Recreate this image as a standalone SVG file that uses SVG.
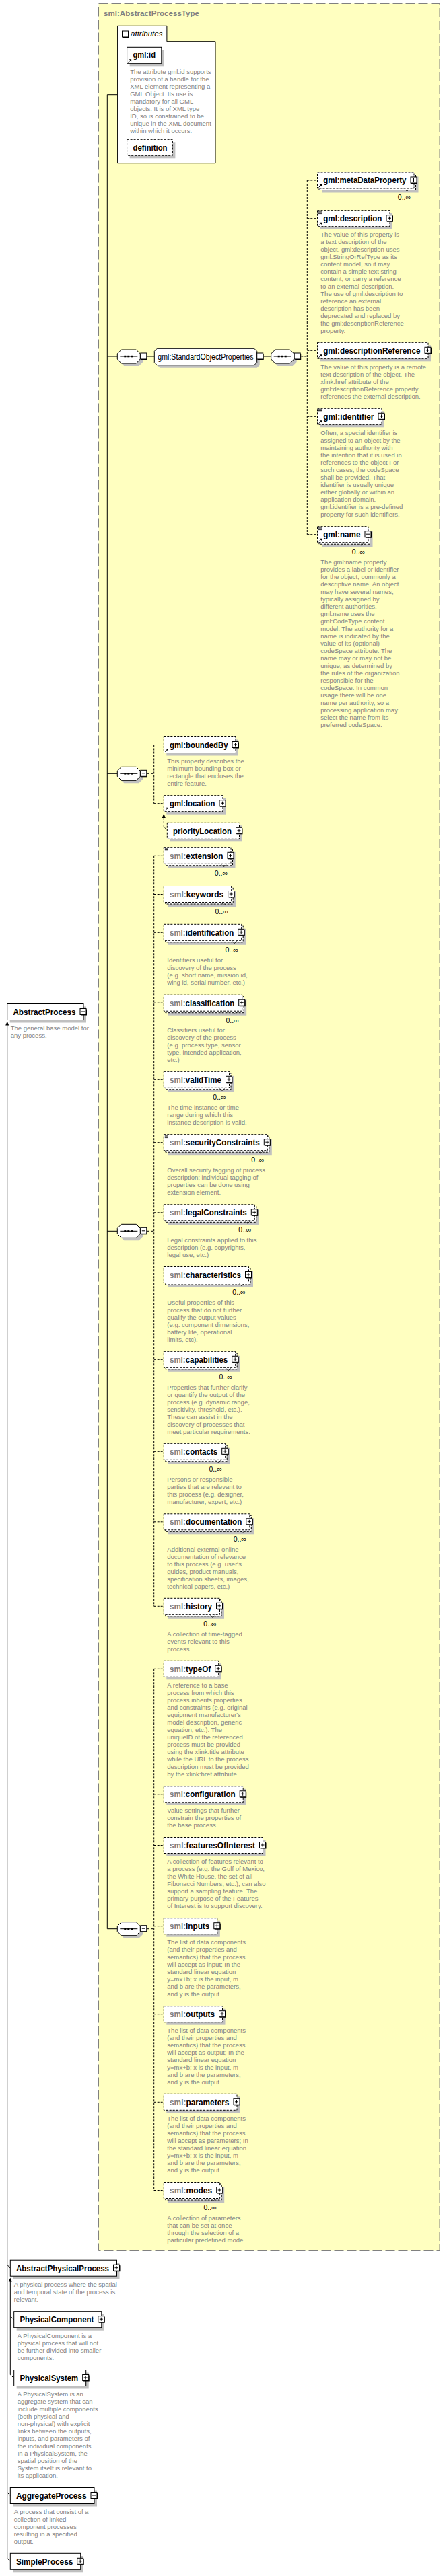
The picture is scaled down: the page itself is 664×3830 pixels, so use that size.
<svg xmlns="http://www.w3.org/2000/svg" xmlns:xlink="http://www.w3.org/1999/xlink" width="664" height="3830" viewBox="0 0 664 3830">
<style>
.bx{fill:#fff;stroke:#000;stroke-width:1}
.o{stroke-dasharray:3,2}
.sh{fill:#c0c0c0}
.n{font-family:"Liberation Sans",Arial,sans-serif;font-weight:bold;font-size:12px;fill:#000}
.g{fill:#808080}
.d{font-family:"Liberation Sans",Arial,sans-serif;font-size:9.5px;fill:#808080}
.m{font-family:"Liberation Sans",Arial,sans-serif;font-size:10.5px;fill:#000}
.c{fill:none;stroke:#000;stroke-width:1}
.cd{fill:none;stroke:#000;stroke-width:1;stroke-dasharray:3,2}
.v{fill:none;stroke:#000;stroke-width:0.7}
</style>
<defs>
<g id="plus"><rect x="1" y="1" width="9" height="9" fill="#000"/><rect x="0" y="0" width="9" height="9" fill="#fff" stroke="#000"/><path d="M2,4.5H7M4.5,2V7" stroke="#000" fill="none"/></g>
<g id="minus"><rect x="1" y="1" width="9" height="9" fill="#000"/><rect x="0" y="0" width="9" height="9" fill="#fff" stroke="#000"/><path d="M2,4.5H7" stroke="#000" fill="none"/></g>
<g id="seq">
<path d="M10,4H32L38,10V18L32,24H10L4,18V10Z" fill="#c0c0c0"/>
<path d="M6,0H28L34,6V14L28,20H6L0,14V6Z" fill="#fff" stroke="#000"/>
<path d="M4,10H30" stroke="#000" fill="none"/>
<rect x="10" y="8.8" width="3" height="2.5" fill="#000"/><rect x="15" y="8.8" width="3" height="2.5" fill="#000"/><rect x="20" y="8.8" width="3" height="2.5" fill="#000"/>
<use xlink:href="#minus" href="#minus" x="34.5" y="5"/>
</g>
<g id="ref"><path d="M2,-1.5L5.3,-4.8" stroke="#000" fill="none"/><polygon points="3.2,-6 6.5,-6 6.5,-2.7" fill="#000"/></g>
<g id="mix"><rect x="1" y="0.8" width="6" height="4.8" fill="#fff"/><path d="M1.5,1.5H6.5M1.5,3.2H6.5M1.5,4.9H6.5" stroke="#000" stroke-width="0.8" fill="none"/></g>
</defs>

<rect id="typebox" x="146.5" y="5.5" width="506.5" height="3341" fill="#FFFFC0" stroke="#808080" stroke-dasharray="14,5"/>
<text x="154" y="23.5" font-family="Liberation Sans, Arial, sans-serif" font-weight="bold" font-size="11.5" fill="#808080" textLength="142" lengthAdjust="spacingAndGlyphs">sml:AbstractProcessType</text>

<g id="connectors">
<path class="c" d="M174.6,140.7H159.3V2867.7H174.3"/>
<path class="c" d="M159.3,530H174.3M159.3,1150.3H174.3M159.3,1830.3H174.3M129,1504.5H159.3"/>
<path class="c" d="M219,530H229.3M392,530H402.7"/>
<path class="cd" d="M447.3,530H456.3M456.3,268V794.7M456.3,268H471.5M456.3,324.7H471.5M456.3,521.3H471.5M456.3,619.3H471.5M456.3,794.7H471.5"/>
<path class="cd" d="M219,1150.3H228.7M228.7,1107.5V1194.7M228.7,1107.5H243.3M228.7,1194.7H243.3"/>
<path class="cd" d="M243.3,1216V1229L248.3,1234"/>
<polygon points="243.3,1209.5 240.8,1216 245.8,1216" fill="#000"/>
<path class="cd" d="M219,1830.3H228.7M228.7,1272.3V2388.3M228.7,1272.3H243.3M228.7,1329.5H243.3M228.7,1386.3H243.3M228.7,1491.2H243.3M228.7,1605.3H243.3M228.7,1698.7H243.3M228.7,1802.8H243.3M228.7,1895.5H243.3M228.7,2021.3H243.3M228.7,2158.3H243.3M228.7,2262.8H243.3M228.7,2388.3H243.3"/>
<path class="cd" d="M219,2867.7H228.7M228.7,2481.3V3256.5M228.7,2481.3H243.3M228.7,2667.8H243.3M228.7,2743.5H243.3M228.7,2863.7H243.3M228.7,2994.7H243.3M228.7,3125.3H243.3M228.7,3256.5H243.3"/>
<path class="c" d="M10.7,1522V3803.3L15.3,3808.3M10.7,3367.2L15.3,3372.2M10.7,3705.5L15.3,3710.5"/>
<polygon points="10.7,1518.5 8.2,1524.5 13.2,1524.5" fill="#000"/>
<path class="c" d="M15.3,3390V3530.5L20.7,3535.5M15.3,3443.7L20.7,3448.7"/>
<polygon points="15.3,3386.5 12.8,3392.5 17.8,3392.5" fill="#000"/>
</g>

<g id="attributes">
<path d="M174.6,38.3H247.9V61.7H320V242.7H174.6Z" class="bx"/>
<use href="#minus" x="181.5" y="46"/>
<text x="194" y="54" font-family="Liberation Sans, Arial, sans-serif" font-style="italic" font-size="11.5" fill="#000" textLength="47.5" lengthAdjust="spacingAndGlyphs">attributes</text>
</g>
<g id="n-gml-id">
<rect class="sh" x="192.6" y="74.3" width="51.2" height="24"/>
<rect class="bx" x="188.6" y="70.3" width="51.2" height="24"/>
<text class="n" x="197.5" y="86.3" textLength="33.5" lengthAdjust="spacingAndGlyphs">gml:id</text>
<use href="#ref" x="188.6" y="94.3"/>
<text class="d" x="193.2" y="110.1"><tspan x="193.2" dy="0">The attribute gml:id supports</tspan><tspan x="193.2" dy="11">provision of a handle for the</tspan><tspan x="193.2" dy="11">XML element representing a</tspan><tspan x="193.2" dy="11">GML Object. Its use is</tspan><tspan x="193.2" dy="11">mandatory for all GML</tspan><tspan x="193.2" dy="11">objects. It is of XML type</tspan><tspan x="193.2" dy="11">ID, so is constrained to be</tspan><tspan x="193.2" dy="11">unique in the XML document</tspan><tspan x="193.2" dy="11">within which it occurs.</tspan></text>
</g>
<g id="n-definition">
<rect class="sh" x="192.6" y="211.3" width="67.8" height="24"/>
<rect class="bx o" x="188.6" y="207.3" width="67.8" height="24"/>
<text class="n" x="197.5" y="223.6" textLength="51" lengthAdjust="spacingAndGlyphs">definition</text>
</g>

<g id="seq1"><use href="#seq" x="174.3" y="520"/></g>
<g id="n-StandardObjectProperties">
<path d="M237.3,526.3H381.7L385.7,530.3V542.7L381.7,546.7H237.3L233.3,542.7V530.3Z" class="sh"/>
<path d="M233.3,518.3H377.7L381.7,522.3V538.7L377.7,542.7H233.3L229.3,538.7V522.3Z" class="bx"/>
<text x="234.3" y="534.7" font-family="Liberation Sans, Arial, sans-serif" font-size="12" fill="#000" textLength="142.3" lengthAdjust="spacingAndGlyphs">gml:StandardObjectProperties</text>
<use href="#minus" x="381.7" y="525"/>
</g>
<g id="seq2"><use href="#seq" x="402.7" y="520"/></g>

<g id="n-metaDataProperty">
<rect class="sh" x="478" y="262.5" width="143.5" height="24"/>
<rect class="bx o" x="474" y="258.5" width="143.5" height="24"/>
<rect class="bx o" x="471.5" y="256" width="143.5" height="24"/>
<path class="v" d="M601,281L604.5,284.5L608,281"/>
<text class="m" x="610" y="297.4" text-anchor="end">0..∞</text>
<use href="#plus" x="610" y="263"/>
<text class="n" x="480.2" y="272.3" textLength="123.3" lengthAdjust="spacingAndGlyphs">gml:metaDataProperty</text>
<use href="#ref" x="471.5" y="280"/>
</g>
<g id="n-description">
<rect class="sh" x="475.5" y="316.7" width="107.5" height="24"/>
<rect class="bx o" x="471.5" y="312.7" width="107.5" height="24"/>
<use href="#plus" x="574" y="319.7"/>
<text class="n" x="480.2" y="329" textLength="87.3" lengthAdjust="spacingAndGlyphs">gml:description</text>
<use href="#mix" x="471.5" y="312.7"/>
<use href="#ref" x="471.5" y="336.7"/>
<text class="d" x="476.3" y="352.1"><tspan x="476.3" dy="0">The value of this property is</tspan><tspan x="476.3" dy="11">a text description of the</tspan><tspan x="476.3" dy="11">object. gml:description uses</tspan><tspan x="476.3" dy="11">gml:StringOrRefType as its</tspan><tspan x="476.3" dy="11">content model, so it may</tspan><tspan x="476.3" dy="11">contain a simple text string</tspan><tspan x="476.3" dy="11">content, or carry a reference</tspan><tspan x="476.3" dy="11">to an external description.</tspan><tspan x="476.3" dy="11">The use of gml:description to</tspan><tspan x="476.3" dy="11">reference an external</tspan><tspan x="476.3" dy="11">description has been</tspan><tspan x="476.3" dy="11">deprecated and replaced by</tspan><tspan x="476.3" dy="11">the gml:descriptionReference</tspan><tspan x="476.3" dy="11">property.</tspan></text>
</g>
<g id="n-descriptionReference">
<rect class="sh" x="475.5" y="513.3" width="164.5" height="24"/>
<rect class="bx o" x="471.5" y="509.3" width="164.5" height="24"/>
<use href="#plus" x="631" y="516.3"/>
<text class="n" x="480.2" y="525.6" textLength="144.3" lengthAdjust="spacingAndGlyphs">gml:descriptionReference</text>
<use href="#ref" x="471.5" y="533.3"/>
<text class="d" x="476.3" y="549.1"><tspan x="476.3" dy="0">The value of this property is a remote</tspan><tspan x="476.3" dy="11">text description of the object. The</tspan><tspan x="476.3" dy="11">xlink:href attribute of the</tspan><tspan x="476.3" dy="11">gml:descriptionReference property</tspan><tspan x="476.3" dy="11">references the external description.</tspan></text>
</g>
<g id="n-identifier">
<rect class="sh" x="475.5" y="611.3" width="95.5" height="24"/>
<rect class="bx o" x="471.5" y="607.3" width="95.5" height="24"/>
<use href="#plus" x="562" y="614.3"/>
<text class="n" x="480.2" y="623.6" textLength="75.3" lengthAdjust="spacingAndGlyphs">gml:identifier</text>
<use href="#mix" x="471.5" y="607.3"/>
<use href="#ref" x="471.5" y="631.3"/>
<text class="d" x="476.3" y="647.1"><tspan x="476.3" dy="0">Often, a special identifier is</tspan><tspan x="476.3" dy="11">assigned to an object by the</tspan><tspan x="476.3" dy="11">maintaining authority with</tspan><tspan x="476.3" dy="11">the intention that it is used in</tspan><tspan x="476.3" dy="11">references to the object For</tspan><tspan x="476.3" dy="11">such cases, the codeSpace</tspan><tspan x="476.3" dy="11">shall be provided. That</tspan><tspan x="476.3" dy="11">identifier is usually unique</tspan><tspan x="476.3" dy="11">either globally or within an</tspan><tspan x="476.3" dy="11">application domain.</tspan><tspan x="476.3" dy="11">gml:identifier is a pre-defined</tspan><tspan x="476.3" dy="11">property for such identifiers.</tspan></text>
</g>
<g id="n-name">
<rect class="sh" x="478" y="789.2" width="75.5" height="24"/>
<rect class="bx o" x="474" y="785.2" width="75.5" height="24"/>
<rect class="bx o" x="471.5" y="782.7" width="75.5" height="24"/>
<path class="v" d="M533,807.7L536.5,811.2L540,807.7"/>
<text class="m" x="542" y="824.1" text-anchor="end">0..∞</text>
<use href="#plus" x="542" y="789.7"/>
<text class="n" x="480.2" y="799" textLength="55.3" lengthAdjust="spacingAndGlyphs">gml:name</text>
<use href="#mix" x="471.5" y="782.7"/>
<use href="#ref" x="471.5" y="806.7"/>
<text class="d" x="476.3" y="839.1"><tspan x="476.3" dy="0">The gml:name property</tspan><tspan x="476.3" dy="11">provides a label or identifier</tspan><tspan x="476.3" dy="11">for the object, commonly a</tspan><tspan x="476.3" dy="11">descriptive name.  An object</tspan><tspan x="476.3" dy="11">may have several names,</tspan><tspan x="476.3" dy="11">typically assigned by</tspan><tspan x="476.3" dy="11">different authorities.</tspan><tspan x="476.3" dy="11">gml:name uses the</tspan><tspan x="476.3" dy="11">gml:CodeType content</tspan><tspan x="476.3" dy="11">model.  The authority for a</tspan><tspan x="476.3" dy="11">name is indicated by the</tspan><tspan x="476.3" dy="11">value of its (optional)</tspan><tspan x="476.3" dy="11">codeSpace attribute.  The</tspan><tspan x="476.3" dy="11">name may or may not be</tspan><tspan x="476.3" dy="11">unique, as determined by</tspan><tspan x="476.3" dy="11">the rules of the organization</tspan><tspan x="476.3" dy="11">responsible for the</tspan><tspan x="476.3" dy="11">codeSpace.  In common</tspan><tspan x="476.3" dy="11">usage there will be one</tspan><tspan x="476.3" dy="11">name per authority, so a</tspan><tspan x="476.3" dy="11">processing application may</tspan><tspan x="476.3" dy="11">select the name from its</tspan><tspan x="476.3" dy="11">preferred codeSpace.</tspan></text>
</g>

<g id="seq3"><use href="#seq" x="174.3" y="1140.3"/></g>
<g id="n-boundedBy">
<rect class="sh" x="247.3" y="1099.5" width="106.7" height="24"/>
<rect class="bx o" x="243.3" y="1095.5" width="106.7" height="24"/>
<use href="#plus" x="345" y="1102.5"/>
<text class="n" x="252" y="1111.8" textLength="86.5" lengthAdjust="spacingAndGlyphs">gml:boundedBy</text>
<use href="#ref" x="243.3" y="1119.5"/>
<text class="d" x="248.3" y="1135.1"><tspan x="248.3" dy="0">This property describes the</tspan><tspan x="248.3" dy="11">minimum bounding box or</tspan><tspan x="248.3" dy="11">rectangle that encloses the</tspan><tspan x="248.3" dy="11">entire feature.</tspan></text>
</g>
<g id="n-location">
<rect class="sh" x="247.3" y="1186.7" width="87.7" height="24"/>
<rect class="bx o" x="243.3" y="1182.7" width="87.7" height="24"/>
<use href="#plus" x="326" y="1189.7"/>
<text class="n" x="252" y="1199" textLength="67.5" lengthAdjust="spacingAndGlyphs">gml:location</text>
<use href="#ref" x="243.3" y="1206.7"/>
</g>
<g id="n-priorityLocation">
<rect class="sh" x="252.3" y="1227.3" width="107.2" height="24"/>
<rect class="bx o" x="248.3" y="1223.3" width="107.2" height="24"/>
<use href="#plus" x="350.5" y="1230.3"/>
<text class="n" x="257" y="1239.6" textLength="87" lengthAdjust="spacingAndGlyphs">priorityLocation</text>
</g>

<g id="seq4"><use href="#seq" x="174.3" y="1820.3"/></g>
<g id="n-extension">
<rect class="sh" x="249.8" y="1266.8" width="99.7" height="24"/>
<rect class="bx o" x="245.8" y="1262.8" width="99.7" height="24"/>
<rect class="bx o" x="243.3" y="1260.3" width="99.7" height="24"/>
<path class="v" d="M329,1285.3L332.5,1288.8L336,1285.3"/>
<text class="m" x="338" y="1301.7" text-anchor="end">0..∞</text>
<use href="#plus" x="338" y="1267.3"/>
<text class="n" x="252" y="1276.6" textLength="79.5" lengthAdjust="spacingAndGlyphs"><tspan class="g">sml:</tspan>extension</text>
<use href="#mix" x="243.3" y="1260.3"/>
</g>
<g id="n-keywords">
<rect class="sh" x="249.8" y="1324" width="100.4" height="24"/>
<rect class="bx o" x="245.8" y="1320" width="100.4" height="24"/>
<rect class="bx o" x="243.3" y="1317.5" width="100.4" height="24"/>
<path class="v" d="M329.7,1342.5L333.2,1346L336.7,1342.5"/>
<text class="m" x="338.7" y="1358.9" text-anchor="end">0..∞</text>
<use href="#plus" x="338.7" y="1324.5"/>
<text class="n" x="252" y="1333.8" textLength="80.2" lengthAdjust="spacingAndGlyphs"><tspan class="g">sml:</tspan>keywords</text>
</g>
<g id="n-identification">
<rect class="sh" x="249.8" y="1380.8" width="115.4" height="24"/>
<rect class="bx o" x="245.8" y="1376.8" width="115.4" height="24"/>
<rect class="bx o" x="243.3" y="1374.3" width="115.4" height="24"/>
<path class="v" d="M344.7,1399.3L348.2,1402.8L351.7,1399.3"/>
<text class="m" x="353.7" y="1415.7" text-anchor="end">0..∞</text>
<use href="#plus" x="353.7" y="1381.3"/>
<text class="n" x="252" y="1390.6" textLength="95.2" lengthAdjust="spacingAndGlyphs"><tspan class="g">sml:</tspan>identification</text>
<text class="d" x="248.3" y="1431.1"><tspan x="248.3" dy="0">Identifiers useful for</tspan><tspan x="248.3" dy="11">discovery of the process</tspan><tspan x="248.3" dy="11">(e.g. short name, mission id,</tspan><tspan x="248.3" dy="11">wing id, serial number, etc.)</tspan></text>
</g>
<g id="n-classification">
<rect class="sh" x="249.8" y="1485.7" width="116.4" height="24"/>
<rect class="bx o" x="245.8" y="1481.7" width="116.4" height="24"/>
<rect class="bx o" x="243.3" y="1479.2" width="116.4" height="24"/>
<path class="v" d="M345.7,1504.2L349.2,1507.7L352.7,1504.2"/>
<text class="m" x="354.7" y="1520.6" text-anchor="end">0..∞</text>
<use href="#plus" x="354.7" y="1486.2"/>
<text class="n" x="252" y="1495.5" textLength="96.2" lengthAdjust="spacingAndGlyphs"><tspan class="g">sml:</tspan>classification</text>
<text class="d" x="248.3" y="1535.1"><tspan x="248.3" dy="0">Classifiers useful for</tspan><tspan x="248.3" dy="11">discovery of the process</tspan><tspan x="248.3" dy="11">(e.g. process type, sensor</tspan><tspan x="248.3" dy="11">type, intended application,</tspan><tspan x="248.3" dy="11">etc.)</tspan></text>
</g>
<g id="n-validTime">
<rect class="sh" x="249.8" y="1599.8" width="97.2" height="24"/>
<rect class="bx o" x="245.8" y="1595.8" width="97.2" height="24"/>
<rect class="bx o" x="243.3" y="1593.3" width="97.2" height="24"/>
<path class="v" d="M326.5,1618.3L330,1621.8L333.5,1618.3"/>
<text class="m" x="335.5" y="1634.7" text-anchor="end">0..∞</text>
<use href="#plus" x="335.5" y="1600.3"/>
<text class="n" x="252" y="1609.6" textLength="77" lengthAdjust="spacingAndGlyphs"><tspan class="g">sml:</tspan>validTime</text>
<text class="d" x="248.3" y="1650.1"><tspan x="248.3" dy="0">The time instance or time</tspan><tspan x="248.3" dy="11">range during which this</tspan><tspan x="248.3" dy="11">instance description is valid.</tspan></text>
</g>
<g id="n-securityConstraints">
<rect class="sh" x="249.8" y="1693.2" width="154" height="24"/>
<rect class="bx o" x="245.8" y="1689.2" width="154" height="24"/>
<rect class="bx o" x="243.3" y="1686.7" width="154" height="24"/>
<path class="v" d="M383.3,1711.7L386.8,1715.2L390.3,1711.7"/>
<text class="m" x="392.3" y="1728.1" text-anchor="end">0..∞</text>
<use href="#plus" x="392.3" y="1693.7"/>
<text class="n" x="252" y="1703" textLength="133.8" lengthAdjust="spacingAndGlyphs"><tspan class="g">sml:</tspan>securityConstraints</text>
<use href="#mix" x="243.3" y="1686.7"/>
<text class="d" x="248.3" y="1743.1"><tspan x="248.3" dy="0">Overall security tagging of process</tspan><tspan x="248.3" dy="11">description; individual tagging of</tspan><tspan x="248.3" dy="11">properties can be done using</tspan><tspan x="248.3" dy="11">extension element.</tspan></text>
</g>
<g id="n-legalConstraints">
<rect class="sh" x="249.8" y="1797.3" width="135" height="24"/>
<rect class="bx o" x="245.8" y="1793.3" width="135" height="24"/>
<rect class="bx o" x="243.3" y="1790.8" width="135" height="24"/>
<path class="v" d="M364.3,1815.8L367.8,1819.3L371.3,1815.8"/>
<text class="m" x="373.3" y="1832.2" text-anchor="end">0..∞</text>
<use href="#plus" x="373.3" y="1797.8"/>
<text class="n" x="252" y="1807.1" textLength="114.8" lengthAdjust="spacingAndGlyphs"><tspan class="g">sml:</tspan>legalConstraints</text>
<text class="d" x="248.3" y="1847.1"><tspan x="248.3" dy="0">Legal constraints applied to this</tspan><tspan x="248.3" dy="11">description (e.g. copyrights,</tspan><tspan x="248.3" dy="11">legal use, etc.)</tspan></text>
</g>
<g id="n-characteristics">
<rect class="sh" x="249.8" y="1890" width="126.2" height="24"/>
<rect class="bx o" x="245.8" y="1886" width="126.2" height="24"/>
<rect class="bx o" x="243.3" y="1883.5" width="126.2" height="24"/>
<path class="v" d="M355.5,1908.5L359,1912L362.5,1908.5"/>
<text class="m" x="364.5" y="1924.9" text-anchor="end">0..∞</text>
<use href="#plus" x="364.5" y="1890.5"/>
<text class="n" x="252" y="1899.8" textLength="106" lengthAdjust="spacingAndGlyphs"><tspan class="g">sml:</tspan>characteristics</text>
<text class="d" x="248.3" y="1940.1"><tspan x="248.3" dy="0">Useful properties of this</tspan><tspan x="248.3" dy="11">process that do not further</tspan><tspan x="248.3" dy="11">qualify the output values</tspan><tspan x="248.3" dy="11">(e.g. component dimensions,</tspan><tspan x="248.3" dy="11">battery life, operational</tspan><tspan x="248.3" dy="11">limits, etc).</tspan></text>
</g>
<g id="n-capabilities">
<rect class="sh" x="249.8" y="2015.8" width="106.4" height="24"/>
<rect class="bx o" x="245.8" y="2011.8" width="106.4" height="24"/>
<rect class="bx o" x="243.3" y="2009.3" width="106.4" height="24"/>
<path class="v" d="M335.7,2034.3L339.2,2037.8L342.7,2034.3"/>
<text class="m" x="344.7" y="2050.7" text-anchor="end">0..∞</text>
<use href="#plus" x="344.7" y="2016.3"/>
<text class="n" x="252" y="2025.6" textLength="86.2" lengthAdjust="spacingAndGlyphs"><tspan class="g">sml:</tspan>capabilities</text>
<text class="d" x="248.3" y="2066.1"><tspan x="248.3" dy="0">Properties that further clarify</tspan><tspan x="248.3" dy="11">or quantify the output of the</tspan><tspan x="248.3" dy="11">process (e.g. dynamic range,</tspan><tspan x="248.3" dy="11">sensitivity, threshold, etc.).</tspan><tspan x="248.3" dy="11">These can assist in the</tspan><tspan x="248.3" dy="11">discovery of processes that</tspan><tspan x="248.3" dy="11">meet particular requirements.</tspan></text>
</g>
<g id="n-contacts">
<rect class="sh" x="249.8" y="2152.8" width="91.4" height="24"/>
<rect class="bx o" x="245.8" y="2148.8" width="91.4" height="24"/>
<rect class="bx o" x="243.3" y="2146.3" width="91.4" height="24"/>
<path class="v" d="M320.7,2171.3L324.2,2174.8L327.7,2171.3"/>
<text class="m" x="329.7" y="2187.7" text-anchor="end">0..∞</text>
<use href="#plus" x="329.7" y="2153.3"/>
<text class="n" x="252" y="2162.6" textLength="71.2" lengthAdjust="spacingAndGlyphs"><tspan class="g">sml:</tspan>contacts</text>
<text class="d" x="248.3" y="2203.1"><tspan x="248.3" dy="0">Persons or responsible</tspan><tspan x="248.3" dy="11">parties that are relevant to</tspan><tspan x="248.3" dy="11">this process (e.g. designer,</tspan><tspan x="248.3" dy="11">manufacturer, expert, etc.)</tspan></text>
</g>
<g id="n-documentation">
<rect class="sh" x="249.8" y="2257.3" width="127.5" height="24"/>
<rect class="bx o" x="245.8" y="2253.3" width="127.5" height="24"/>
<rect class="bx o" x="243.3" y="2250.8" width="127.5" height="24"/>
<path class="v" d="M356.8,2275.8L360.3,2279.3L363.8,2275.8"/>
<text class="m" x="365.8" y="2292.2" text-anchor="end">0..∞</text>
<use href="#plus" x="365.8" y="2257.8"/>
<text class="n" x="252" y="2267.1" textLength="107.3" lengthAdjust="spacingAndGlyphs"><tspan class="g">sml:</tspan>documentation</text>
<text class="d" x="248.3" y="2307.1"><tspan x="248.3" dy="0">Additional external online</tspan><tspan x="248.3" dy="11">documentation of relevance</tspan><tspan x="248.3" dy="11">to this process (e.g. user's</tspan><tspan x="248.3" dy="11">guides, product manuals,</tspan><tspan x="248.3" dy="11">specification sheets, images,</tspan><tspan x="248.3" dy="11">technical papers, etc.)</tspan></text>
</g>
<g id="n-history">
<rect class="sh" x="249.8" y="2382.8" width="83.2" height="24"/>
<rect class="bx o" x="245.8" y="2378.8" width="83.2" height="24"/>
<rect class="bx o" x="243.3" y="2376.3" width="83.2" height="24"/>
<path class="v" d="M312.5,2401.3L316,2404.8L319.5,2401.3"/>
<text class="m" x="321.5" y="2417.7" text-anchor="end">0..∞</text>
<use href="#plus" x="321.5" y="2383.3"/>
<text class="n" x="252" y="2392.6" textLength="63" lengthAdjust="spacingAndGlyphs"><tspan class="g">sml:</tspan>history</text>
<text class="d" x="248.3" y="2433.4"><tspan x="248.3" dy="0">A collection of time-tagged</tspan><tspan x="248.3" dy="11">events relevant to this</tspan><tspan x="248.3" dy="11">process.</tspan></text>
</g>

<g id="seq5"><use href="#seq" x="174.3" y="2857.7"/></g>
<g id="n-typeOf">
<rect class="sh" x="247.3" y="2473.3" width="81.4" height="24"/>
<rect class="bx o" x="243.3" y="2469.3" width="81.4" height="24"/>
<use href="#plus" x="319.7" y="2476.3"/>
<text class="n" x="252" y="2485.6" textLength="61.2" lengthAdjust="spacingAndGlyphs"><tspan class="g">sml:</tspan>typeOf</text>
<text class="d" x="248.3" y="2509.1"><tspan x="248.3" dy="0">A reference to a base</tspan><tspan x="248.3" dy="11">process from which this</tspan><tspan x="248.3" dy="11">process inherits properties</tspan><tspan x="248.3" dy="11">and constraints (e.g. original</tspan><tspan x="248.3" dy="11">equipment manufacturer's</tspan><tspan x="248.3" dy="11">model description, generic</tspan><tspan x="248.3" dy="11">equation, etc.). The</tspan><tspan x="248.3" dy="11">uniqueID of the referenced</tspan><tspan x="248.3" dy="11">process must be provided</tspan><tspan x="248.3" dy="11">using the xlink:title attribute</tspan><tspan x="248.3" dy="11">while the URL to the process</tspan><tspan x="248.3" dy="11">description must be provided</tspan><tspan x="248.3" dy="11">by the xlink:href attribute.</tspan></text>
</g>
<g id="n-configuration">
<rect class="sh" x="247.3" y="2659.8" width="117.9" height="24"/>
<rect class="bx o" x="243.3" y="2655.8" width="117.9" height="24"/>
<use href="#plus" x="356.2" y="2662.8"/>
<text class="n" x="252" y="2672.1" textLength="97.7" lengthAdjust="spacingAndGlyphs"><tspan class="g">sml:</tspan>configuration</text>
<text class="d" x="248.3" y="2695.1"><tspan x="248.3" dy="0">Value settings that further</tspan><tspan x="248.3" dy="11">constrain the properties of</tspan><tspan x="248.3" dy="11">the base process.</tspan></text>
</g>
<g id="n-featuresOfInterest">
<rect class="sh" x="247.3" y="2735.5" width="147.2" height="24"/>
<rect class="bx o" x="243.3" y="2731.5" width="147.2" height="24"/>
<use href="#plus" x="385.5" y="2738.5"/>
<text class="n" x="252" y="2747.8" textLength="127" lengthAdjust="spacingAndGlyphs"><tspan class="g">sml:</tspan>featuresOfInterest</text>
<text class="d" x="248.3" y="2771.1"><tspan x="248.3" dy="0">A collection of features relevant to</tspan><tspan x="248.3" dy="11">a process (e.g. the Gulf of Mexico,</tspan><tspan x="248.3" dy="11">the White House, the set of all</tspan><tspan x="248.3" dy="11">Fibonacci Numbers, etc.); can also</tspan><tspan x="248.3" dy="11">support a sampling feature. The</tspan><tspan x="248.3" dy="11">primary purpose of the Features</tspan><tspan x="248.3" dy="11">of Interest is to support discovery.</tspan></text>
</g>
<g id="n-inputs">
<rect class="sh" x="247.3" y="2855.7" width="79.5" height="24"/>
<rect class="bx o" x="243.3" y="2851.7" width="79.5" height="24"/>
<use href="#plus" x="317.8" y="2858.7"/>
<text class="n" x="252" y="2868" textLength="59.3" lengthAdjust="spacingAndGlyphs"><tspan class="g">sml:</tspan>inputs</text>
<text class="d" x="248.3" y="2890.7"><tspan x="248.3" dy="0">The list of data components</tspan><tspan x="248.3" dy="11">(and their properties and</tspan><tspan x="248.3" dy="11">semantics) that the process</tspan><tspan x="248.3" dy="11">will accept as input; In the</tspan><tspan x="248.3" dy="11">standard linear equation</tspan><tspan x="248.3" dy="11">y=mx+b; x is the input, m</tspan><tspan x="248.3" dy="11">and b are the parameters,</tspan><tspan x="248.3" dy="11">and y is the output.</tspan></text>
</g>
<g id="n-outputs">
<rect class="sh" x="247.3" y="2986.7" width="87.2" height="24"/>
<rect class="bx o" x="243.3" y="2982.7" width="87.2" height="24"/>
<use href="#plus" x="325.5" y="2989.7"/>
<text class="n" x="252" y="2999" textLength="67" lengthAdjust="spacingAndGlyphs"><tspan class="g">sml:</tspan>outputs</text>
<text class="d" x="248.3" y="3022.1"><tspan x="248.3" dy="0">The list of data components</tspan><tspan x="248.3" dy="11">(and their properties and</tspan><tspan x="248.3" dy="11">semantics) that the process</tspan><tspan x="248.3" dy="11">will accept as output; In the</tspan><tspan x="248.3" dy="11">standard linear equation</tspan><tspan x="248.3" dy="11">y=mx+b; x is the input, m</tspan><tspan x="248.3" dy="11">and b are the parameters,</tspan><tspan x="248.3" dy="11">and y is the output.</tspan></text>
</g>
<g id="n-parameters">
<rect class="sh" x="247.3" y="3117.3" width="108.7" height="24"/>
<rect class="bx o" x="243.3" y="3113.3" width="108.7" height="24"/>
<use href="#plus" x="347" y="3120.3"/>
<text class="n" x="252" y="3129.6" textLength="88.5" lengthAdjust="spacingAndGlyphs"><tspan class="g">sml:</tspan>parameters</text>
<text class="d" x="248.3" y="3153.1"><tspan x="248.3" dy="0">The list of data components</tspan><tspan x="248.3" dy="11">(and their properties and</tspan><tspan x="248.3" dy="11">semantics) that the process</tspan><tspan x="248.3" dy="11">will accept as parameters; In</tspan><tspan x="248.3" dy="11">the standard linear equation</tspan><tspan x="248.3" dy="11">y=mx+b; x is the input, m</tspan><tspan x="248.3" dy="11">and b are the parameters,</tspan><tspan x="248.3" dy="11">and y is the output.</tspan></text>
</g>
<g id="n-modes">
<rect class="sh" x="249.8" y="3251" width="83.4" height="24"/>
<rect class="bx o" x="245.8" y="3247" width="83.4" height="24"/>
<rect class="bx o" x="243.3" y="3244.5" width="83.4" height="24"/>
<path class="v" d="M312.7,3269.5L316.2,3273L319.7,3269.5"/>
<text class="m" x="321.7" y="3285.9" text-anchor="end">0..∞</text>
<use href="#plus" x="321.7" y="3251.5"/>
<text class="n" x="252" y="3260.8" textLength="63.2" lengthAdjust="spacingAndGlyphs"><tspan class="g">sml:</tspan>modes</text>
<text class="d" x="248.3" y="3301.1"><tspan x="248.3" dy="0">A collection of parameters</tspan><tspan x="248.3" dy="11">that can be set at once</tspan><tspan x="248.3" dy="11">through the selection of a</tspan><tspan x="248.3" dy="11">particular predefined mode.</tspan></text>
</g>

<g id="n-AbstractProcess">
<rect class="sh" x="14.7" y="1496.5" width="113.3" height="24"/>
<rect class="bx" x="10.7" y="1492.5" width="113.3" height="24"/>
<use href="#minus" x="119" y="1499.5"/>
<text class="n" x="19.4" y="1508.8" textLength="93.1" lengthAdjust="spacingAndGlyphs">AbstractProcess</text>
<text class="d" x="15.7" y="1532.1"><tspan x="15.7" dy="0">The general base model for</tspan><tspan x="15.7" dy="11">any process.</tspan></text>
</g>
<g id="n-AbstractPhysicalProcess">
<rect class="sh" x="19.3" y="3364.2" width="158.2" height="24"/>
<rect class="bx" x="15.3" y="3360.2" width="158.2" height="24"/>
<use href="#plus" x="168.5" y="3367.2"/>
<text class="n" x="24" y="3376.5" textLength="138" lengthAdjust="spacingAndGlyphs">AbstractPhysicalProcess</text>
<text class="d" x="20.7" y="3400.1"><tspan x="20.7" dy="0">A physical process where the spatial</tspan><tspan x="20.7" dy="11">and temporal state of the process is</tspan><tspan x="20.7" dy="11">relevant.</tspan></text>
</g>
<g id="n-PhysicalComponent">
<rect class="sh" x="24.7" y="3440.7" width="130.1" height="24"/>
<rect class="bx" x="20.7" y="3436.7" width="130.1" height="24"/>
<use href="#plus" x="145.8" y="3443.7"/>
<text class="n" x="29.4" y="3453" textLength="109.9" lengthAdjust="spacingAndGlyphs">PhysicalComponent</text>
<text class="d" x="25.7" y="3476.1"><tspan x="25.7" dy="0">A PhysicalComponent is a</tspan><tspan x="25.7" dy="11">physical process that will not</tspan><tspan x="25.7" dy="11">be further divided into smaller</tspan><tspan x="25.7" dy="11">components.</tspan></text>
</g>
<g id="n-PhysicalSystem">
<rect class="sh" x="24.7" y="3527.5" width="107" height="24"/>
<rect class="bx" x="20.7" y="3523.5" width="107" height="24"/>
<use href="#plus" x="122.7" y="3530.5"/>
<text class="n" x="29.4" y="3539.8" textLength="86.8" lengthAdjust="spacingAndGlyphs">PhysicalSystem</text>
<text class="d" x="25.7" y="3563.4"><tspan x="25.7" dy="0">A PhysicalSystem is an</tspan><tspan x="25.7" dy="11">aggregate system that can</tspan><tspan x="25.7" dy="11">include multiple components</tspan><tspan x="25.7" dy="11">(both physical and</tspan><tspan x="25.7" dy="11">non-physical) with explicit</tspan><tspan x="25.7" dy="11">links between the outputs,</tspan><tspan x="25.7" dy="11">inputs, and parameters of</tspan><tspan x="25.7" dy="11">the individual components.</tspan><tspan x="25.7" dy="11">In a PhysicalSystem, the</tspan><tspan x="25.7" dy="11">spatial position of the</tspan><tspan x="25.7" dy="11">System itself is relevant to</tspan><tspan x="25.7" dy="11">its application.</tspan></text>
</g>
<g id="n-AggregateProcess">
<rect class="sh" x="19.3" y="3702.5" width="124.7" height="24"/>
<rect class="bx" x="15.3" y="3698.5" width="124.7" height="24"/>
<use href="#plus" x="135" y="3705.5"/>
<text class="n" x="24" y="3714.8" textLength="104.5" lengthAdjust="spacingAndGlyphs">AggregateProcess</text>
<text class="d" x="20.7" y="3738.1"><tspan x="20.7" dy="0">A process that consist of a</tspan><tspan x="20.7" dy="11">collection of linked</tspan><tspan x="20.7" dy="11">component processes</tspan><tspan x="20.7" dy="11">resulting in a specified</tspan><tspan x="20.7" dy="11">output.</tspan></text>
</g>
<g id="n-SimpleProcess">
<rect class="sh" x="19.3" y="3800.3" width="104.4" height="24"/>
<rect class="bx" x="15.3" y="3796.3" width="104.4" height="24"/>
<use href="#plus" x="114.7" y="3803.3"/>
<text class="n" x="24" y="3812.6" textLength="84.2" lengthAdjust="spacingAndGlyphs">SimpleProcess</text>
</g>
</svg>
